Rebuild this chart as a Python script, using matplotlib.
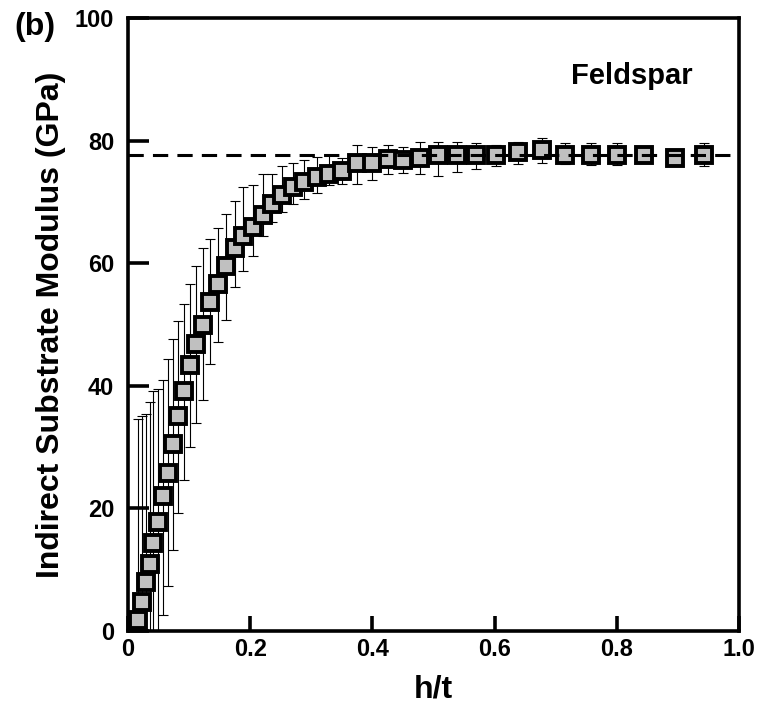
import matplotlib
matplotlib.use("Agg")
import matplotlib.pyplot as plt
import numpy as np

plt.rcParams['font.family'] = ['Liberation Sans', 'DejaVu Sans']
plt.rcParams['font.weight'] = 'bold'

# Data
h_t = [0.016, 0.023, 0.029, 0.036, 0.041, 0.049, 0.057, 0.065, 0.074, 0.082,
       0.092, 0.101, 0.111, 0.123, 0.135, 0.148, 0.161, 0.175, 0.188, 0.205,
       0.221, 0.236, 0.252, 0.270, 0.288, 0.309, 0.329, 0.350, 0.375, 0.399,
       0.425, 0.450, 0.478, 0.507, 0.538, 0.570, 0.603, 0.638, 0.678, 0.716,
       0.758, 0.801, 0.845, 0.895, 0.942]
modulus = [1.8, 4.7, 8.0, 11.0, 14.3, 17.7, 22.0, 25.8, 30.5, 35.0,
           39.2, 43.4, 46.8, 49.9, 53.6, 56.6, 59.5, 62.4, 64.4, 65.9,
           67.8, 69.6, 71.2, 72.4, 73.3, 74.0, 74.5, 75.0, 76.4, 76.3,
           77.0, 76.8, 77.1, 77.6, 77.6, 77.6, 77.6, 78.1, 78.5, 77.7,
           77.7, 77.7, 77.7, 77.1, 77.6]
err_low = [32.0, 30.0, 27.0, 26.0, 24.0, 21.7, 19.4, 18.5, 17.3, 15.7,
           14.6, 13.4, 12.8, 12.2, 10.0, 9.4, 8.8, 6.3, 5.7, 4.8,
           3.4, 2.9, 2.9, 2.8, 2.9, 2.5, 1.7, 2.0, 3.4, 2.8,
           2.4, 2.1, 2.6, 3.3, 2.7, 2.2, 1.8, 1.9, 2.2, 1.5,
           1.7, 1.7, 1.0, 1.0, 1.8]
err_high = [32.8, 30.4, 27.4, 26.4, 24.9, 21.8, 19.0, 18.6, 17.1, 15.6,
            14.1, 13.2, 12.7, 12.5, 10.3, 9.1, 8.5, 7.8, 8.1, 6.9,
            6.7, 4.9, 4.6, 4.0, 3.6, 3.4, 3.1, 2.1, 2.9, 2.7,
            2.3, 2.1, 2.6, 2.1, 2.1, 2.0, 1.7, 1.6, 2.0, 1.9,
            1.9, 1.9, 1.0, 1.0, 2.0]
plateau = 77.6

x_ticks = [0, 0.2, 0.4, 0.6, 0.8, 1.0]
x_ticklabels = ['0', '0.2', '0.4', '0.6', '0.8', '1.0']
y_ticks = [0, 20, 40, 60, 80, 100]

fig = plt.figure(figsize=(7.59, 7.11), dpi=100)
ax = fig.add_axes([128/759, 1 - 631/711, (739 - 128)/759, (631 - 18)/711])

ax.errorbar(h_t, modulus, yerr=[err_low, err_high], fmt='none',
            ecolor='black', elinewidth=0.8, capsize=3.5, capthick=0.8, zorder=2)
ax.plot(h_t, modulus, linestyle='none', marker='s', markersize=11.5,
        markerfacecolor='#c0c0c0', markeredgecolor='black',
        markeredgewidth=2.8, zorder=3, clip_on=False)
ax.axhline(plateau, color='black', linewidth=2.2, dashes=(5.0, 3.0), zorder=4)

ax.set_xlim(0, 1.0)
ax.set_ylim(0, 100)
ax.set_xticks(x_ticks)
ax.set_xticklabels(x_ticklabels)
ax.set_yticks(y_ticks)

for s in ax.spines.values():
    s.set_linewidth(2.6)
ax.tick_params(axis='both', direction='in', width=2.6, labelsize=17)
ax.tick_params(axis='x', length=11, pad=5)
ax.tick_params(axis='y', length=15, pad=10)
for lab in ax.get_xticklabels() + ax.get_yticklabels():
    lab.set_fontweight('bold')

ax.set_xlabel('h/t', fontsize=23, fontweight='bold', labelpad=10)
ax.set_ylabel('Indirect Substrate Modulus (GPa)', fontsize=23,
              fontweight='bold', labelpad=6)

ax.text(0.825, 0.905, 'Feldspar', transform=ax.transAxes, fontsize=21,
        fontweight='bold', ha='center', va='center')
fig.text(35/759, 1 - 27/711, '(b)', fontsize=23, fontweight='bold',
         ha='center', va='center')

fig.savefig('out.png', dpi=100)
